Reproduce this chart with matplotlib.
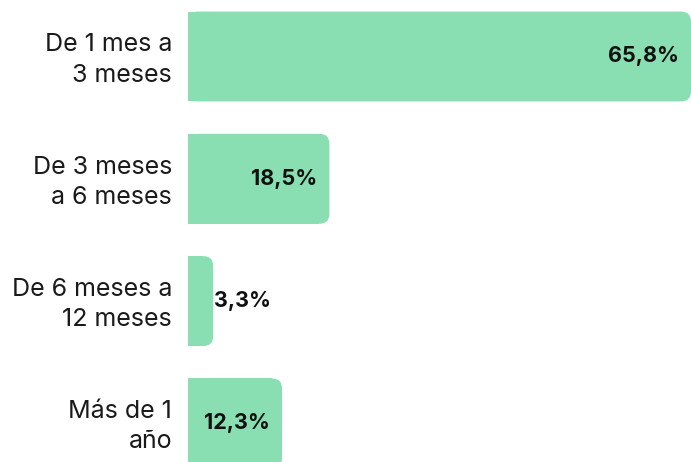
import matplotlib.pyplot as plt
from matplotlib.patches import FancyBboxPatch
import numpy as np

categories = ['De 1 mes a\n3 meses', 'De 3 meses\na 6 meses',
              'De 6 meses a\n12 meses', 'Más de 1\naño']
values = [65.8, 18.5, 3.3, 12.3]
value_labels = ['65,8%', '18,5%', '3,3%', '12,3%']

bar_color = '#89deb2'
plt.rcParams['font.family'] = ['Inter', 'DejaVu Sans']

W, H = 691, 462
fig = plt.figure(figsize=(W / 100, H / 100), dpi=100)
x0 = 188
ax = fig.add_axes([x0 / W, 0, (W - x0) / W, 1])

pitch = 122.3
top = 56.5
ax.set_xlim(0, values[0])
ax.set_ylim((H - top) / pitch, -top / pitch)

px_x = (W - x0) / values[0]
radius = 10 / px_x
aspect = (pitch / px_x) ** -1
bh = 0.735

y = np.arange(len(values))
ax.barh(y, [v - radius for v in values], height=bh, color=bar_color)
for yi, v in zip(y, values):
    ax.add_patch(FancyBboxPatch((0, yi - bh / 2), v, bh,
                                boxstyle=f'round,pad=0,rounding_size={radius}',
                                mutation_aspect=aspect,
                                fc=bar_color, ec='none'))

for yi, v, lab in zip(y, values, value_labels):
    if v > 8:
        ax.annotate(lab, (v, yi), xytext=(-8.5, 0), textcoords='offset points',
                    ha='right', va='center', fontsize=15.5, fontweight='bold',
                    color='#111111')
    else:
        ax.annotate(lab, (v, yi), xytext=(0.5, 0), textcoords='offset points',
                    ha='left', va='center', fontsize=15.5, fontweight='bold',
                    color='#111111')

for yi, cat in zip(y, categories):
    ax.annotate(cat, (0, yi), xytext=(-11.5, -2.5), textcoords='offset points',
                ha='right', va='center', fontsize=18, color='#1a1a1a',
                linespacing=1.4, annotation_clip=False)

ax.axis('off')
fig.savefig('out.png', dpi=100)
